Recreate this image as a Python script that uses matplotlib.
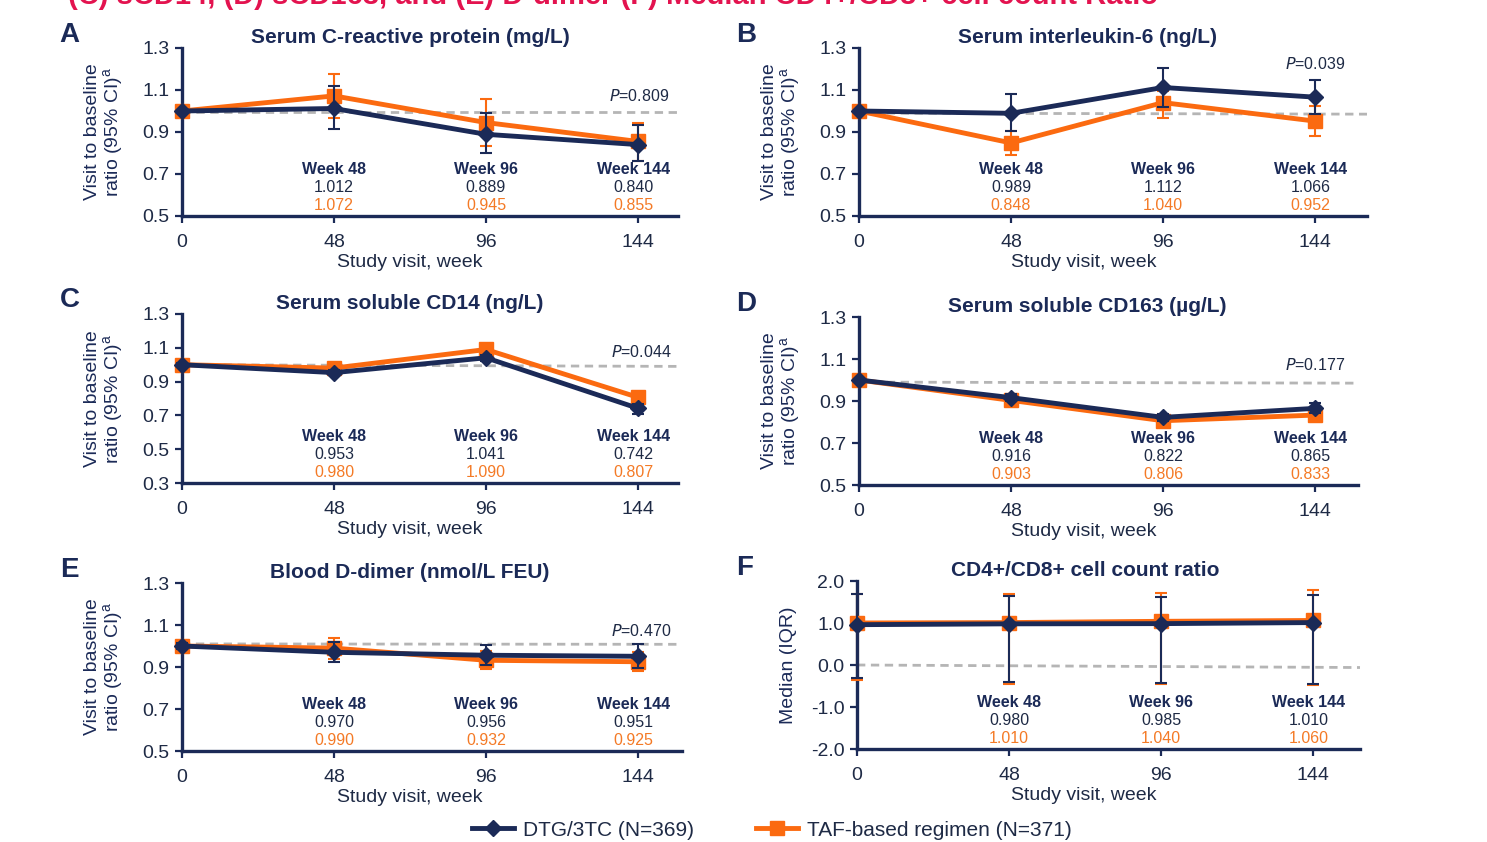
import matplotlib
matplotlib.use("Agg")
import matplotlib.pyplot as plt
import matplotlib.transforms as mtransforms
from matplotlib.lines import Line2D

plt.rcParams['font.family'] = ['Liberation Sans', 'DejaVu Sans']

NAVY = '#1b2a57'
ORANGE = '#fb6a10'
ORANGE_TXT = '#f47a26'
GREY = '#b5b5b5'
TXT = '#1e2a45'

weeks = [0, 48, 96, 144]

# A - C-reactive protein
crp_dtg = [1.0, 1.012, 0.889, 0.840]
crp_dtg_lo = [0.995, 0.915, 0.800, 0.760]
crp_dtg_hi = [1.005, 1.120, 0.990, 0.935]
crp_taf = [1.0, 1.072, 0.945, 0.855]
crp_taf_lo = [0.995, 0.965, 0.835, 0.760]
crp_taf_hi = [1.005, 1.175, 1.055, 0.945]

# B - interleukin-6
il6_dtg = [1.0, 0.989, 1.112, 1.066]
il6_dtg_lo = [0.995, 0.905, 1.020, 0.985]
il6_dtg_hi = [1.005, 1.080, 1.205, 1.150]
il6_taf = [1.0, 0.848, 1.040, 0.952]
il6_taf_lo = [0.995, 0.790, 0.965, 0.880]
il6_taf_hi = [1.005, 0.905, 1.095, 1.025]

# C - soluble CD14
cd14_dtg = [1.0, 0.953, 1.041, 0.742]
cd14_dtg_lo = [0.99, 0.940, 1.020, 0.710]
cd14_dtg_hi = [1.01, 0.970, 1.060, 0.770]
cd14_taf = [1.0, 0.980, 1.090, 0.807]
cd14_taf_lo = [0.99, 0.965, 1.070, 0.780]
cd14_taf_hi = [1.01, 0.995, 1.110, 0.835]

# D - soluble CD163
cd163_dtg = [1.0, 0.916, 0.822, 0.865]
cd163_dtg_lo = [0.995, 0.900, 0.805, 0.845]
cd163_dtg_hi = [1.005, 0.935, 0.840, 0.890]
cd163_taf = [1.0, 0.903, 0.806, 0.833]
cd163_taf_lo = [0.995, 0.890, 0.795, 0.815]
cd163_taf_hi = [1.005, 0.915, 0.820, 0.850]

# E - D-dimer
dd_dtg = [1.0, 0.970, 0.956, 0.951]
dd_dtg_lo = [0.985, 0.925, 0.910, 0.895]
dd_dtg_hi = [1.015, 1.020, 1.005, 1.010]
dd_taf = [1.0, 0.990, 0.932, 0.925]
dd_taf_lo = [0.985, 0.940, 0.890, 0.880]
dd_taf_hi = [1.015, 1.040, 0.975, 0.970]

# F - CD4+/CD8+ ratio, median (IQR)
cd4_dtg = [0.96, 0.980, 0.985, 1.010]
cd4_dtg_lo = [-0.30, -0.40, -0.42, -0.45]
cd4_dtg_hi = [1.68, 1.65, 1.62, 1.67]
cd4_taf = [1.00, 1.010, 1.040, 1.060]
cd4_taf_lo = [-0.35, -0.45, -0.45, -0.48]
cd4_taf_hi = [1.70, 1.68, 1.72, 1.78]

W = 1487
H = 842
fig = plt.figure(figsize=(W / 100, H / 100), dpi=100)
PX_PER_WEEK = 152 / 48


def make_axes(left, top, width, height):
    ax = fig.add_axes([left / W, 1 - (top + height) / H, width / W, height / H])
    ax.set_xlim(0, width / PX_PER_WEEK)
    return ax


def panel(ax, letter, title, dtg, dtg_lo, dtg_hi, taf, taf_lo, taf_hi,
          ylim, yticks, ylabel, ref, pval=None, p_pos=None, xlab_x=0.46, ylab_pad=12):
    ax.set_ylim(*ylim)
    ax.set_yticks(yticks)
    ax.set_yticklabels([f'{t:.1f}' for t in yticks])
    ax.set_xticks(weeks)
    ax.set_xticklabels([str(w) for w in weeks])
    for s in ['top', 'right']:
        ax.spines[s].set_visible(False)
    for s in ['left', 'bottom']:
        ax.spines[s].set_color(NAVY)
        ax.spines[s].set_linewidth(2.4)
    ax.tick_params(axis='both', colors=NAVY, labelsize=14, width=1.6, length=5,
                   labelcolor=TXT)
    ax.tick_params(axis='x', pad=8)
    ax.tick_params(axis='y', pad=4)
    ax.set_xlabel('Study visit, week', fontsize=14, color=TXT, labelpad=2)
    ax.xaxis.label.set_x(xlab_x)
    ax.set_ylabel(ylabel, fontsize=14, color=NAVY, labelpad=ylab_pad, linespacing=1.0)

    xmax = ax.get_xlim()[1]
    ax.plot([0, xmax], ref, ls=(0, (3, 2)), color=GREY, lw=2, zorder=1, clip_on=False)

    ax.errorbar(weeks, taf,
                yerr=[[v - l for v, l in zip(taf, taf_lo)], [h - v for v, h in zip(taf, taf_hi)]],
                color=ORANGE, lw=3.5, marker='s', ms=10, capsize=4, elinewidth=1.5,
                capthick=1.5, zorder=3, clip_on=False)
    ax.errorbar(weeks, dtg,
                yerr=[[v - l for v, l in zip(dtg, dtg_lo)], [h - v for v, h in zip(dtg, dtg_hi)]],
                color=NAVY, lw=3.5, marker='D', ms=8, capsize=4, elinewidth=1.5,
                capthick=1.5, zorder=4, clip_on=False)

    trans = mtransforms.blended_transform_factory(ax.transData, ax.transAxes)
    for i, w in enumerate(weeks[1:], start=1):
        xc = w if w < 144 else w - 1.5
        ax.text(xc, 0.275, f'Week {w}', transform=trans, ha='center', va='center',
                fontsize=11.5, fontweight='bold', color=NAVY)
        ax.text(xc, 0.167, f'{dtg[i]:.3f}', transform=trans, ha='center', va='center',
                fontsize=11.5, color=TXT)
        ax.text(xc, 0.06, f'{taf[i]:.3f}', transform=trans, ha='center', va='center',
                fontsize=11.5, color=ORANGE_TXT)

    if pval is not None:
        ax.text(p_pos[0], p_pos[1], f'$P$={pval}', transform=trans, ha='center',
                va='center', fontsize=11.5, color=TXT)

    ax.text(72, 1.065, title, transform=trans, ha='center', va='center',
            fontsize=15, fontweight='bold', color=NAVY)
    ax.text(-35.5, 1.08, letter, transform=trans, ha='center', va='center',
            fontsize=20, fontweight='bold', color=NAVY)


ylab = 'Visit to baseline\nratio (95% CI)$^\\mathregular{a}$'

axA = make_axes(182, 48, 496, 168)
panel(axA, 'A', 'Serum C-reactive protein (mg/L)', crp_dtg, crp_dtg_lo, crp_dtg_hi,
      crp_taf, crp_taf_lo, crp_taf_hi, (0.5, 1.3), [0.5, 0.7, 0.9, 1.1, 1.3], ylab,
      (0.993, 0.993), '0.809', (144.5, 0.714))

axB = make_axes(859, 48, 508, 168)
panel(axB, 'B', 'Serum interleukin-6 (ng/L)', il6_dtg, il6_dtg_lo, il6_dtg_hi,
      il6_taf, il6_taf_lo, il6_taf_hi, (0.5, 1.3), [0.5, 0.7, 0.9, 1.1, 1.3], ylab,
      (0.99, 0.985), '0.039', (144, 0.905), xlab_x=0.443)

axC = make_axes(182, 314, 496, 169)
panel(axC, 'C', 'Serum soluble CD14 (ng/L)', cd14_dtg, cd14_dtg_lo, cd14_dtg_hi,
      cd14_taf, cd14_taf_lo, cd14_taf_hi, (0.3, 1.3), [0.3, 0.5, 0.7, 0.9, 1.1, 1.3], ylab,
      (1.0, 0.99), '0.044', (145, 0.775))

axD = make_axes(859, 317, 499, 168)
panel(axD, 'D', 'Serum soluble CD163 (\u00b5g/L)', cd163_dtg, cd163_dtg_lo, cd163_dtg_hi,
      cd163_taf, cd163_taf_lo, cd163_taf_hi, (0.5, 1.3), [0.5, 0.7, 0.9, 1.1, 1.3], ylab,
      (0.99, 0.985), '0.177', (144, 0.714), xlab_x=0.45)

axE = make_axes(182, 583, 500, 168)
panel(axE, 'E', 'Blood D-dimer (nmol/L FEU)', dd_dtg, dd_dtg_lo, dd_dtg_hi,
      dd_taf, dd_taf_lo, dd_taf_hi, (0.5, 1.3), [0.5, 0.7, 0.9, 1.1, 1.3], ylab,
      (1.01, 1.008), '0.470', (145, 0.714), xlab_x=0.456)

axF = make_axes(857, 581, 503, 168)
panel(axF, 'F', 'CD4+/CD8+ cell count ratio', cd4_dtg, cd4_dtg_lo, cd4_dtg_hi,
      cd4_taf, cd4_taf_lo, cd4_taf_hi, (-2.0, 2.0), [-2.0, -1.0, 0.0, 1.0, 2.0],
      'Median (IQR)', (0.0, -0.06), xlab_x=0.45, ylab_pad=10)

# cut-off heading at the top edge
fig.text(68 / W, 1 - 4 / H,
         '(C) sCD14, (D) sCD163, and (E) D-dimer (F) Median CD4+/CD8+ cell count Ratio',
         ha='left', va='baseline', fontsize=21, fontweight='bold', color='#e3134f')

handles = [Line2D([], [], color=NAVY, lw=3.5, marker='D', ms=8),
           Line2D([], [], color=ORANGE, lw=3.5, marker='s', ms=10)]
fig.legend(handles, ['DTG/3TC (N=369)', 'TAF-based regimen (N=371)'],
           loc='center', bbox_to_anchor=(772 / W, 1 - 830 / H), ncol=2,
           frameon=False, fontsize=15, handlelength=2.0, handletextpad=0.45,
           columnspacing=3.0, labelcolor=TXT)

fig.savefig('out.png', dpi=100)
